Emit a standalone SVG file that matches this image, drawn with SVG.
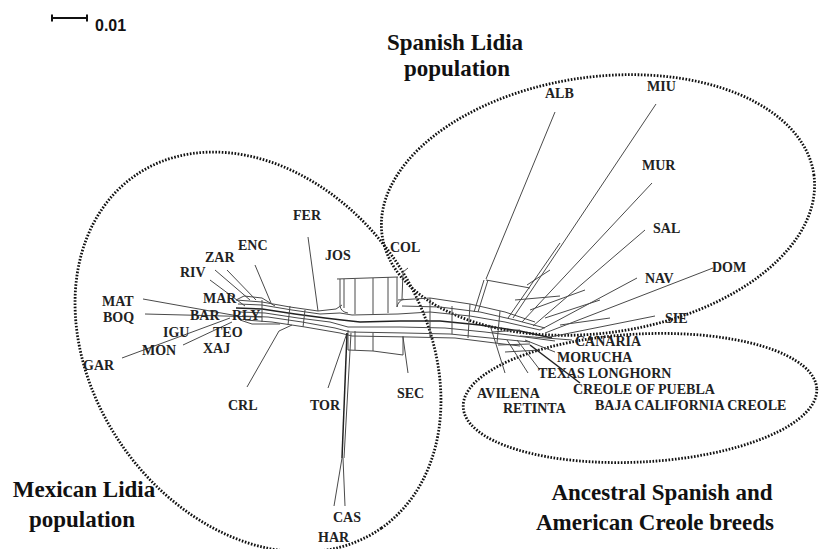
<svg xmlns="http://www.w3.org/2000/svg" width="828" height="549" viewBox="0 0 828 549">
<style>
.net{fill:none;stroke:#4a4a4a;stroke-width:1;stroke-linejoin:round}
.nd{fill:none;stroke:#222;stroke-width:1.5}
.dot{fill:none;stroke:#111;stroke-width:2.8;stroke-dasharray:1.6 1.6}
.lb{font-family:"Liberation Serif","Times New Roman",serif;font-weight:bold;font-size:14px;fill:#222}
.tt{font-family:"Liberation Serif","Times New Roman",serif;font-weight:bold;font-size:23px;fill:#111;text-anchor:middle}
.sc{font-family:"Liberation Sans",Arial,sans-serif;font-weight:bold;font-size:16px;fill:#111}
</style>
<rect width="828" height="549" fill="#fff"/>
<g id="scale">
<path d="M52,18H87M52,14.5V21.5M87,14.5V21.5" stroke="#111" stroke-width="2" fill="none"/>
<text x="95" y="31" class="sc">0.01</text>
</g>
<g id="groups">
<ellipse class="dot" cx="258" cy="352" rx="215" ry="165" transform="rotate(55 258 352)"/>
<ellipse class="dot" cx="598" cy="205" rx="218" ry="128" transform="rotate(-8 598 205)"/>
<ellipse class="dot" cx="640" cy="398" rx="177" ry="64" transform="rotate(-3 640 398)"/>
</g>
<g id="connectors">
<polyline class="net" points="236,300 262,302 290,307 318,311 336,309 342,305"/>
<polyline class="net" points="238,304 262,305 292,310 320,314 340,313 352,315 398,314 430,312 470,316 505,322 540,330"/>
<polyline class="nd" points="236,308 262,309 295,314 325,318 342,320 360,322 400,321 440,321 480,325 520,331 552,338"/>
<polyline class="net" points="240,312 265,313 298,318 330,322 348,327 400,327 445,328 485,332 525,337 555,341"/>
<polyline class="net" points="242,316 268,317 302,322 335,328 350,332 405,333 450,334 490,338 530,342"/>
<polyline class="net" points="245,320 272,322 305,327 340,333 352,336 410,337 455,338 495,343 520,346"/>
<polyline class="net" points="398,300 430,298 470,304 505,312 535,322"/>
<polyline class="net" points="402,306 440,307 480,312 515,320 545,328"/>
<path class="net" d="M430,298V337M470,304L468,338M452,306V334M500,311L497,343M262,300V322M290,306L288,325M305,310L303,327"/>
<path class="net" d="M337,279L398,277M340,279V306Q341,312 348,313M344,279V308M355,279V314M373,278V314M388,277V313M397,277V307Q398,301 404,299"/>
<path class="net" d="M348,330V350L373,351L403,355V336M355,331V350M373,333V351"/>
<path class="net" d="M143,299L238,316M145,314L262,317M210,280L245,306M215,270L250,300M227,270L256,300M255,265L271,303M308,237L318,311M122,358L230,318M183,345L232,322M247,387L279,331L292,325M328,388L347,333"/>
<path class="net" d="M236,300L244,296L262,298L275,306M240,320L252,324L280,324"/>
<path class="nd" d="M347,333L342,458"/>
<path class="net" d="M351,333L344,458M342,458L334,506M343,458L345,506"/>
<path class="net" d="M403,337L408,373M402,299L403,272L408,268"/>
<path class="net" d="M486,279L555,112M474,312L484,280M478,312L488,280M486,280L530,288"/>
<path class="net" d="M513,318L656,104M508,318L560,243M522,322L652,183M533,326L645,230M540,330L637,278M545,333L713,268M550,337L655,316"/>
<path class="net" d="M527,285L550,270M515,300L560,296M530,310L585,290M545,318L600,300M560,325L610,318"/>
<path class="net" d="M490,325L505,373M507,340L528,373M517,340L540,370M520,336L572,340M525,340L555,352M492,332L520,330M498,345L530,344M505,352L540,350"/>
<path class="nd" d="M530,345L580,383"/>
</g>
<g id="n-ALB"><text class="lb" x="545" y="98">ALB</text></g>
<g id="n-MIU"><text class="lb" x="647" y="91">MIU</text></g>
<g id="n-MUR"><text class="lb" x="642" y="170">MUR</text></g>
<g id="n-SAL"><text class="lb" x="653" y="233">SAL</text></g>
<g id="n-NAV"><text class="lb" x="645" y="283">NAV</text></g>
<g id="n-DOM"><text class="lb" x="712" y="272">DOM</text></g>
<g id="n-SIE"><text class="lb" x="665" y="323">SIE</text></g>
<g id="n-CANARIA"><text class="lb" x="575" y="346">CANARIA</text></g>
<g id="n-MORUCHA"><text class="lb" x="557" y="362">MORUCHA</text></g>
<g id="n-TEXAS"><text class="lb" x="538" y="378">TEXAS LONGHORN</text></g>
<g id="n-PUEBLA"><text class="lb" x="573" y="394">CREOLE OF PUEBLA</text></g>
<g id="n-BAJA"><text class="lb" x="595" y="410">BAJA CALIFORNIA CREOLE</text></g>
<g id="n-AVILENA"><text class="lb" x="477" y="398">AVILENA</text></g>
<g id="n-RETINTA"><text class="lb" x="503" y="413">RETINTA</text></g>
<g id="n-COL"><text class="lb" x="390" y="252">COL</text></g>
<g id="n-JOS"><text class="lb" x="325" y="260">JOS</text></g>
<g id="n-FER"><text class="lb" x="293" y="220">FER</text></g>
<g id="n-ENC"><text class="lb" x="238" y="250">ENC</text></g>
<g id="n-ZAR"><text class="lb" x="205" y="262">ZAR</text></g>
<g id="n-RIV"><text class="lb" x="180" y="277">RIV</text></g>
<g id="n-MAT"><text class="lb" x="102" y="306">MAT</text></g>
<g id="n-BOQ"><text class="lb" x="103" y="322">BOQ</text></g>
<g id="n-MAR"><text class="lb" x="203" y="303">MAR</text></g>
<g id="n-BAR"><text class="lb" x="190" y="320">BAR</text></g>
<g id="n-RLY"><text class="lb" x="232" y="320">RLY</text></g>
<g id="n-IGU"><text class="lb" x="163" y="337">IGU</text></g>
<g id="n-TEO"><text class="lb" x="213" y="337">TEO</text></g>
<g id="n-XAJ"><text class="lb" x="203" y="353">XAJ</text></g>
<g id="n-MON"><text class="lb" x="142" y="355">MON</text></g>
<g id="n-GAR"><text class="lb" x="83" y="370">GAR</text></g>
<g id="n-CRL"><text class="lb" x="228" y="410">CRL</text></g>
<g id="n-TOR"><text class="lb" x="310" y="410">TOR</text></g>
<g id="n-SEC"><text class="lb" x="397" y="398">SEC</text></g>
<g id="n-CAS"><text class="lb" x="333" y="522">CAS</text></g>
<g id="n-HAR"><text class="lb" x="318" y="542">HAR</text></g>
<g id="titles">
<text class="tt" x="455" y="50">Spanish Lidia</text>
<text class="tt" x="457" y="76">population</text>
<text class="tt" x="84" y="497">Mexican Lidia</text>
<text class="tt" x="82" y="527">population</text>
<text class="tt" x="662" y="500">Ancestral Spanish and</text>
<text class="tt" x="655" y="530">American Creole breeds</text>
</g>
</svg>
